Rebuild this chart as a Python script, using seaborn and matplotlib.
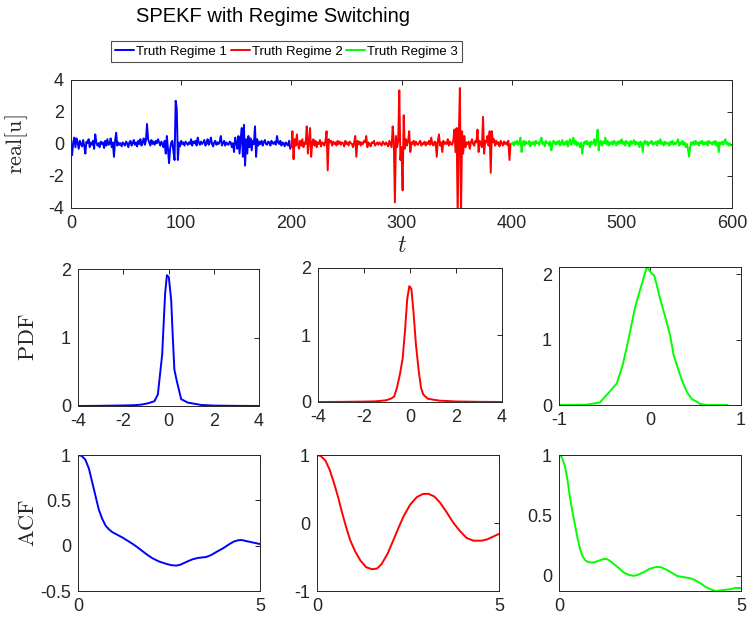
import numpy as np
import pandas as pd
import seaborn as sns
import matplotlib
matplotlib.use('Agg')
import matplotlib.pyplot as plt

# ---- data ----
regimes = ['Truth Regime 1', 'Truth Regime 2', 'Truth Regime 3']
colors = ['#0000ff', '#ff0000', '#00ff00']

u_regime1 = [
    0.0, -0.7, 0.1, 0.4, -0.2, 0.35, 0.1, -0.3, 0.2, 0.0, -0.15, 0.25, -0.1, -0.6, 0.15, 0.05, 0.3, -0.2, 0.1, -0.05,
    0.2, -0.3, 0.6, 0.1, -0.1, 0.05, -0.2, 0.15, 0.0, 0.1, -0.25, 0.2, -0.1, 0.3, -0.05, 0.0, 0.35, -0.2, 0.1, -0.8,
    0.2, 0.7, -0.1, 0.1, -0.05, 0.05, -0.15, 0.1, 0.0, -0.1, 0.15, 0.05, -0.2, 0.1, 0.2, -0.1, 0.05, 0.25, -0.05, 0.1,
    -0.15, 0.2, 0.0, 0.3, -0.1, 0.1, 0.35, -0.05, 0.2, 1.25, 0.3, 0.1, -0.1, 0.25, 0.0, 0.15, -0.05, 0.2, 0.05, 0.3,
    0.1, -0.1, 0.15, 0.0, -0.2, 0.2, -0.6, 0.5, -0.3, -1.2, -0.3, 0.1, 0.2, -0.5, -1.0, 2.7, 2.2, -1.0, 0.1, -0.15,
    0.2, 0.0, 0.1, -0.1, 0.15, 0.05, -0.05, 0.1, 0.0, 0.3, -0.1, 0.15, 0.05, 0.2, -0.1, 0.4, 0.1, -0.05, 0.15, 0.0,
    0.1, 0.25, -0.1, 0.05, 0.3, -0.05, 0.1, 0.4, 0.0, -0.15, 0.1, 0.2, -0.05, 0.1, 0.0, 0.15, 0.5, -0.1, 0.05, 0.2,
    -0.1, 0.1, 0.0, -0.05, 0.15, 0.1, -0.2, 0.05, -0.5, 0.4, 0.1, -0.3, 0.5, -0.6, 0.3, 1.0, -0.8, 1.2, -1.35, 0.3,
    -0.6, 0.5, -0.2, 0.35, -0.4, 0.2, 0.0, 1.1, -0.8, 0.3, -0.1, 0.15, 0.0, 0.2, -0.1, 0.1, 0.25, 0.0, -0.05, 0.15,
    0.1, -0.1, 0.2, 0.05, 0.0, 0.15, -0.05, 0.5, 0.1, 0.0, 0.2, -0.1, 0.1, 0.05, -0.15, 0.1, 0.0, -0.1, 0.2, -0.3,
]
u_regime2 = [
    -0.2, 0.8, -0.95, 0.3, -0.1, 0.6, 0.0, -0.3, 0.2, -0.1, 0.3, -0.2, 0.1, 0.0, 1.1, -0.6, 0.2, 1.0, -0.8, 0.1,
    0.3, -0.1, 0.2, -0.2, 0.1, 0.0, 0.25, -0.15, 0.1, 0.05, -0.1, 0.2, 0.8, -1.65, 0.3, 0.1, 0.2, -0.1, 0.15, 0.0,
    0.1, -0.1, 0.2, 0.0, 0.15, -0.05, 0.1, 0.05, -0.15, 0.2, 0.0, 0.1, -0.1, 0.15, 0.05, 0.0, -0.2, 0.1, 0.5, -0.8,
    0.2, 0.0, 0.15, -0.1, 0.1, 0.0, 0.2, 0.1, 0.5, -0.2, 0.1, 0.0, -0.15, 0.1, 0.05, 0.2, -0.1, 0.0, 0.1, -0.05,
    0.1, 0.0, -0.1, 0.15, 0.05, -0.05, 0.1, 0.0, -0.15, 0.2, 0.0, -0.2, 1.1, 0.2, -3.65, 0.5, -0.2, 0.2, 3.35, -1.0,
    -0.2, -2.9, 1.8, -0.3, 0.3, -0.1, 0.2, 0.8, -0.5, 0.1, 0.0, 0.2, -0.1, 0.15, 0.0, -0.05, 0.1, 0.2, -0.1, 0.05,
    0.0, 0.15, -0.1, 0.1, 0.0, 0.2, -0.05, 0.4, 0.0, -0.1, 0.15, 0.1, -0.8, 0.2, 0.6, -0.1, 0.1, -0.5, 0.2, 0.0,
    0.1, 0.0, 0.3, -0.1, 0.15, 0.0, -0.05, 0.2, 0.9, -0.5, 1.0, -4.5, 0.5, 3.5, -4.5, 0.8, -0.6, 0.5, -0.2, 0.1,
    0.0, 0.15, -0.3, 0.1, 0.3, 0.0, -0.1, 0.2, 0.1, 0.9, -0.5, 0.2, 0.0, -0.2, 1.7, -0.6, 0.2, 0.1, 0.5, -0.1,
    0.8, -1.8, 0.8, 0.1, 0.3, -0.1, 0.2, 0.0, 0.1, -0.15, 0.2, 0.05, -0.1, 0.15, 0.0, 0.1, -0.05, 0.2, -1.0, 0.0,
]
u_regime3 = [
    0.0, 0.1, -0.1, 0.15, 0.0, 0.2, -0.05, 0.1, 0.4, -0.5, 0.1, 0.2, -0.1, 0.15, 0.05, 0.0, 0.2, -0.15, 0.1, 0.0,
    0.15, -0.1, 0.2, 0.05, 0.1, -0.05, 0.2, 0.4, 0.0, 0.1, -0.15, 0.2, 0.05, 0.1, -0.1, 0.15, -0.4, 0.0, 0.2, 0.1,
    -0.05, 0.15, 0.0, 0.2, -0.1, 0.1, 0.25, -0.05, 0.1, 0.0, 0.2, -0.15, 0.1, 0.3, -0.05, 0.15, 0.4, 0.0, 0.2, -0.1,
    0.1, 0.0, -0.2, 0.1, -0.6, -0.1, 0.15, 0.0, 0.2, -0.05, 0.1, -0.2, 0.15, 0.0, 0.1, 0.3, -0.1, 0.2, 0.9, -0.4,
    0.1, 0.2, -0.1, 0.15, 0.05, 0.4, 0.0, 0.2, -0.1, 0.1, 0.0, 0.15, -0.05, 0.2, 0.1, -0.1, 0.15, 0.0, 0.2, 0.05,
    0.3, 0.0, 0.15, -0.1, 0.2, 0.05, 0.1, -0.15, 0.2, 0.0, 0.1, 0.25, -0.05, 0.15, 0.0, 0.1, -0.2, 0.15, 0.05, -0.5,
    0.1, 0.2, 0.0, 0.15, -0.1, 0.1, 0.05, 0.2, -0.05, 0.1, 0.0, 0.15, -0.1, 0.2, 0.05, 0.3, 0.0, 0.1, -0.1, 0.15,
    0.0, 0.1, 0.05, -0.1, 0.15, 0.0, 0.2, -0.05, 0.1, 0.0, 0.15, 0.3, -0.1, 0.1, 0.0, 0.2, -0.05, 0.1, -0.2, 0.0,
    -0.3, -0.8, -0.2, 0.1, 0.0, 0.15, -0.05, 0.2, 0.0, 0.1, -0.1, 0.15, 0.05, 0.2, -0.05, 0.1, 0.0, 0.15, -0.1, 0.2,
    0.05, 0.1, -0.05, 0.15, 0.0, 0.2, -0.1, 0.1, -0.5, 0.1, 0.0, 0.15, -0.05, 0.2, 0.3, 0.0, 0.1, -0.1, 0.05, -0.1,
]
t_start = [0, 200, 400]

pdf1_x = [-4, -3, -2, -1.5, -1.2, -0.9, -0.62, -0.47, -0.28, -0.15, -0.07, 0.015, 0.12, 0.19, 0.26, 0.37, 0.56, 0.85, 1.45, 2, 3, 4]
pdf1_y = [0.0, 0.003, 0.008, 0.012, 0.02, 0.04, 0.07, 0.17, 0.75, 1.64, 1.91, 1.88, 1.54, 1.0, 0.53, 0.36, 0.1, 0.05, 0.015, 0.006, 0.002, 0.0]
pdf2_x = [-4, -3, -2, -1.5, -1.05, -0.83, -0.69, -0.57, -0.44, -0.32, -0.22, -0.12, -0.03, 0.06, 0.15, 0.26, 0.38, 0.48, 0.58, 0.77, 1.0, 1.3, 2, 3, 4]
pdf2_y = [0.0, 0.002, 0.006, 0.01, 0.025, 0.05, 0.08, 0.21, 0.41, 0.65, 1.05, 1.54, 1.73, 1.69, 1.35, 0.85, 0.46, 0.21, 0.11, 0.05, 0.035, 0.02, 0.008, 0.003, 0.0]
pdf3_x = [-1.0, -0.695, -0.55, -0.446, -0.365, -0.30, -0.237, -0.163, -0.09, -0.035, 0.02, 0.046, 0.075, 0.11, 0.167, 0.22, 0.26, 0.295, 0.35, 0.405, 0.46, 0.515, 0.55, 0.63, 0.85]
pdf3_y = [0.0, 0.005, 0.04, 0.2, 0.33, 0.61, 1.0, 1.5, 1.85, 2.11, 2.01, 1.98, 1.83, 1.63, 1.35, 1.07, 0.76, 0.61, 0.38, 0.2, 0.09, 0.05, 0.015, 0.0, 0.0]

acf1_lag = [0, 0.1, 0.2, 0.3, 0.39, 0.48, 0.57, 0.66, 0.76, 0.85, 0.94, 1.08, 1.22, 1.36, 1.5, 1.64, 1.77, 1.9, 2.05, 2.23, 2.42,
            2.56, 2.7, 2.81, 2.92, 3.03, 3.15, 3.3, 3.52, 3.65, 3.8, 3.98, 4.17, 4.28, 4.4, 4.5, 4.63, 4.8, 5.0]
acf1 = [1.0, 0.99, 0.95, 0.85, 0.7, 0.55, 0.4, 0.3, 0.22, 0.18, 0.15, 0.12, 0.09, 0.055, 0.02, -0.02, -0.06, -0.1, -0.14, -0.175, -0.2,
        -0.215, -0.22, -0.21, -0.19, -0.17, -0.15, -0.135, -0.125, -0.105, -0.07, -0.03, 0.02, 0.045, 0.06, 0.062, 0.05, 0.035, 0.018]
acf2_lag = [0, 0.1, 0.23, 0.35, 0.46, 0.58, 0.69, 0.8, 0.91, 1.05, 1.19, 1.35, 1.51, 1.65, 1.78, 1.94, 2.1, 2.24, 2.38, 2.56,
            2.74, 2.9, 3.06, 3.22, 3.38, 3.56, 3.75, 3.93, 4.11, 4.3, 4.52, 4.68, 4.84, 5.0]
acf2 = [1.0, 0.985, 0.92, 0.78, 0.6, 0.38, 0.15, -0.06, -0.25, -0.42, -0.55, -0.65, -0.68, -0.67, -0.6, -0.45, -0.25, -0.07, 0.1, 0.27,
        0.38, 0.425, 0.43, 0.39, 0.3, 0.16, 0.0, -0.12, -0.22, -0.26, -0.26, -0.24, -0.2, -0.16]
acf3_lag = [0, 0.08, 0.17, 0.24, 0.3, 0.37, 0.44, 0.51, 0.58, 0.65, 0.72, 0.8, 0.9, 1.0, 1.13, 1.22, 1.31, 1.42, 1.54, 1.66, 1.77,
            1.9, 2.05, 2.18, 2.32, 2.5, 2.69, 2.82, 2.96, 3.1, 3.24, 3.42, 3.61, 3.74, 3.88, 4.02, 4.16, 4.3, 4.43, 4.57, 4.71, 4.85, 5.0]
acf3 = [1.0, 0.98, 0.9, 0.78, 0.65, 0.53, 0.42, 0.31, 0.22, 0.16, 0.13, 0.115, 0.11, 0.115, 0.13, 0.14, 0.14, 0.12, 0.09, 0.06, 0.03,
        0.01, 0.0, 0.01, 0.03, 0.06, 0.075, 0.07, 0.05, 0.025, 0.0, -0.01, -0.02, -0.035, -0.06, -0.09, -0.11, -0.125, -0.12, -0.115, -0.11, -0.1, -0.1]

# ---- style ----
sns.set_theme(style='white')
plt.rcParams['font.family'] = ['Liberation Sans', 'DejaVu Sans']
plt.rcParams['mathtext.fontset'] = 'cm'
plt.rcParams['axes.unicode_minus'] = False
dark = '#262626'

W, H = 748, 622
fig = plt.figure(figsize=(W / 100, H / 100), dpi=100)


def px_axes(left, right, top, bottom):
    return fig.add_axes([left / W, 1 - bottom / H, (right - left) / W, (bottom - top) / H])


def style(ax):
    for s in ax.spines.values():
        s.set_color(dark)
        s.set_linewidth(0.7)
    ax.tick_params(direction='in', top=True, right=True, length=3.5, width=0.7,
                   color=dark, labelcolor=dark, labelsize=13, pad=5)
    ax.set_xlabel('')
    ax.set_ylabel('')


# ---- top: time series ----
ax = px_axes(71, 732, 80, 208)
frames = []
for name, start, vals in zip(regimes, t_start, [u_regime1, u_regime2, u_regime3]):
    frames.append(pd.DataFrame({'t': np.arange(len(vals)) + start, 'u': vals, 'regime': name}))
ts = pd.concat(frames, ignore_index=True)
sns.lineplot(data=ts, x='t', y='u', hue='regime', palette=dict(zip(regimes, colors)),
             estimator=None, sort=False, lw=1.4, legend=False, ax=ax)
style(ax)
ax.set_xlim(0, 600)
ax.set_ylim(-4, 4)
ax.set_xticks(range(0, 601, 100))
ax.set_yticks([-4, -2, 0, 2, 4])
ax.set_xlabel('$t$', fontsize=17)
ax.xaxis.set_label_coords(0.5, -0.21)
ax.set_ylabel(r'$\mathrm{real}[\mathrm{u}]$', fontsize=16)
ax.yaxis.set_label_coords(-0.062, 0.5)

handles = ax.get_lines()[:3]
leg = fig.legend(handles, regimes, loc='center', bbox_to_anchor=(286.5 / W, 1 - 51.5 / H),
                 ncol=3, frameon=True, fancybox=False, handlelength=1.45, handletextpad=0.15,
                 columnspacing=0.25, borderpad=0.3, borderaxespad=0, fontsize=9.5)
leg.get_frame().set_edgecolor(dark)
leg.get_frame().set_linewidth(0.8)
for txt in leg.get_texts():
    txt.set_color('black')

fig.text(273 / W, 1 - 16 / H, 'SPEKF with Regime Switching', ha='center', va='center',
         fontsize=14.5, color='black')

# ---- PDFs ----
pdf_pos = [(78, 259, 269, 406), (318, 502, 268, 402), (559, 741, 267, 405)]
pdf_data = [(pdf1_x, pdf1_y), (pdf2_x, pdf2_y), (pdf3_x, pdf3_y)]
pdf_xlims = [(-4, 4), (-4, 4), (-1, 1)]
pdf_xticks = [[-4, -2, 0, 2, 4], [-4, -2, 0, 2, 4], [-1, 0, 1]]
pdf_ylims = [(0, 2), (0, 2), (0, 2.11)]
for i in range(3):
    ax = px_axes(*pdf_pos[i])
    x, y = pdf_data[i]
    sns.lineplot(x=x, y=y, color=colors[i], lw=1.4, estimator=None, sort=False, ax=ax)
    style(ax)
    ax.set_xlim(*pdf_xlims[i])
    ax.set_ylim(*pdf_ylims[i])
    ax.set_xticks(pdf_xticks[i])
    ax.set_yticks([0, 1, 2])
    if i == 0:
        ax.set_ylabel(r'$\mathrm{PDF}$', fontsize=16)
        ax.yaxis.set_label_coords(-0.215, 0.5)

# ---- ACFs ----
acf_pos = [(78, 260, 455, 591), (317, 499, 455, 591), (559, 741, 455, 591)]
acf_data = [(acf1_lag, acf1), (acf2_lag, acf2), (acf3_lag, acf3)]
acf_ylims = [(-0.5, 1), (-1, 1), (-0.125, 1)]
acf_yticks = [[-0.5, 0, 0.5, 1], [-1, 0, 1], [0, 0.5, 1]]
for i in range(3):
    ax = px_axes(*acf_pos[i])
    x, y = acf_data[i]
    sns.lineplot(x=x, y=y, color=colors[i], lw=1.4, estimator=None, sort=False, ax=ax)
    style(ax)
    ax.set_xlim(0, 5)
    ax.set_ylim(*acf_ylims[i])
    ax.set_xticks([0, 5])
    ax.set_yticks(acf_yticks[i])
    ax.set_yticklabels([('%g' % v) for v in acf_yticks[i]])
    if i == 0:
        ax.set_ylabel(r'$\mathrm{ACF}$', fontsize=16)
        ax.yaxis.set_label_coords(-0.215, 0.5)

fig.savefig('out.png', dpi=100)
